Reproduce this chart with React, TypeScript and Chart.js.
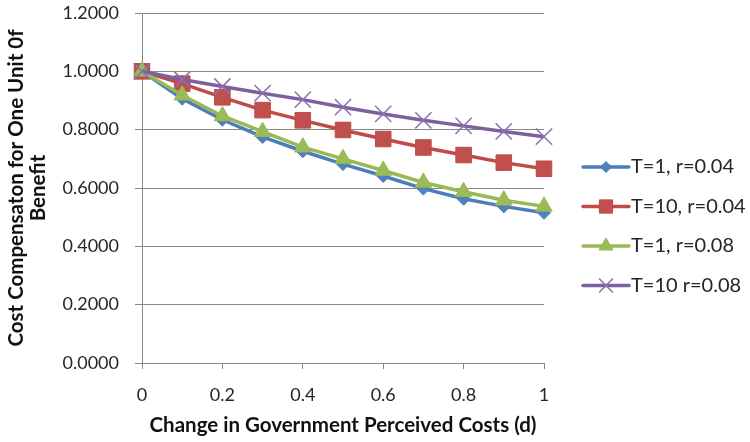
import React, { useEffect, useRef } from "react";
import { Chart, registerables } from "chart.js";

Chart.register(...registerables);

const xValues = [0, 0.1, 0.2, 0.3, 0.4, 0.5, 0.6, 0.7, 0.8, 0.9, 1.0];
const seriesLabels = ["T=1, r=0.04", "T=10, r=0.04", "T=1, r=0.08", "T=10 r=0.08"];
const t1r004 = [1.0, 0.906, 0.834, 0.775, 0.726, 0.682, 0.641, 0.598, 0.563, 0.537, 0.515];
const t10r004 = [1.0, 0.958, 0.911, 0.867, 0.832, 0.799, 0.768, 0.739, 0.713, 0.687, 0.666];
const t1r008 = [1.0, 0.918, 0.847, 0.793, 0.740, 0.700, 0.660, 0.619, 0.587, 0.558, 0.537];
const t10r008 = [1.0, 0.972, 0.948, 0.925, 0.903, 0.877, 0.854, 0.832, 0.813, 0.794, 0.776];
const xTitle = "Change in Government Perceived Costs (d)";
const yTitle = ["Cost Compensaton for One Unit 0f", "Benefit"];

const FONT = "Lato, 'Liberation Sans', sans-serif";

type Style = { line: string; fill: string; border: string; point: string; radius: number; pbw: number };
const styles: Style[] = [
  { line: "#4A7EBB", fill: "#4F81BD", border: "#4A7EBB", point: "rectRot", radius: 6.5, pbw: 1 },
  { line: "#BE4B48", fill: "#C0504D", border: "#BE4B48", point: "rect", radius: 11, pbw: 1 },
  { line: "#98B954", fill: "#9BBB59", border: "#98B954", point: "triangle", radius: 9.5, pbw: 1 },
  { line: "#7D60A0", fill: "#8064A2", border: "#8C70B0", point: "crossRot", radius: 11.5, pbw: 1.5 },
];

function drawMarker(ctx: CanvasRenderingContext2D, kind: string, x: number, y: number, r: number, s: Style) {
  ctx.save();
  ctx.beginPath();
  ctx.fillStyle = s.fill;
  ctx.strokeStyle = s.border;
  ctx.lineWidth = s.pbw;
  if (kind === "rectRot") {
    ctx.moveTo(x, y - r);
    ctx.lineTo(x + r, y);
    ctx.lineTo(x, y + r);
    ctx.lineTo(x - r, y);
    ctx.closePath();
    ctx.fill();
    ctx.stroke();
  } else if (kind === "rect") {
    const h = r * Math.SQRT1_2;
    ctx.rect(x - h, y - h, 2 * h, 2 * h);
    ctx.fill();
    ctx.stroke();
  } else if (kind === "triangle") {
    let a = 0;
    ctx.moveTo(x + Math.sin(a) * r, y - Math.cos(a) * r);
    a += (2 * Math.PI) / 3;
    ctx.lineTo(x + Math.sin(a) * r, y - Math.cos(a) * r);
    a += (2 * Math.PI) / 3;
    ctx.lineTo(x + Math.sin(a) * r, y - Math.cos(a) * r);
    ctx.closePath();
    ctx.fill();
    ctx.stroke();
  } else {
    const d = r * Math.SQRT1_2;
    ctx.moveTo(x - d, y - d);
    ctx.lineTo(x + d, y + d);
    ctx.moveTo(x - d, y + d);
    ctx.lineTo(x + d, y - d);
    ctx.stroke();
  }
  ctx.restore();
}

const legendPlugin = {
  id: "customLegend",
  afterDraw(chart: any) {
    const ctx: CanvasRenderingContext2D = chart.ctx;
    const area = chart.chartArea;
    const lineX0 = area.right + 39;
    const lineX1 = area.right + 85;
    const textX = area.right + 87;
    const rowY0 = area.top + 154;
    const rowGap = 39.5;
    chart.data.datasets.forEach((ds: any, i: number) => {
      const s = styles[i];
      const y = rowY0 + i * rowGap;
      ctx.save();
      ctx.strokeStyle = s.line;
      ctx.lineWidth = 3.5;
      ctx.lineCap = "round";
      ctx.beginPath();
      ctx.moveTo(lineX0, y);
      ctx.lineTo(lineX1, y);
      ctx.stroke();
      ctx.restore();
      drawMarker(ctx, s.point, (lineX0 + lineX1) / 2, y, s.radius * 0.85, s);
      ctx.save();
      ctx.fillStyle = "#262626";
      ctx.font = `20px ${FONT}`;
      ctx.textAlign = "left";
      ctx.textBaseline = "middle";
      ctx.fillText(ds.label, textX, y);
      ctx.restore();
    });
  },
};

export default function App() {
  const canvasRef = useRef<HTMLCanvasElement | null>(null);

  useEffect(() => {
    if (!canvasRef.current) return;
    const all = [t1r004, t10r004, t1r008, t10r008];
    const datasets = all.map((vals, i) => {
      const s = styles[i];
      return {
        label: seriesLabels[i],
        data: xValues.map((x, j) => ({ x, y: vals[j] })),
        borderColor: s.line,
        backgroundColor: s.fill,
        borderWidth: 3.5,
        pointStyle: s.point,
        pointRadius: s.radius,
        pointHoverRadius: s.radius,
        pointBackgroundColor: s.fill,
        pointBorderColor: s.border,
        pointBorderWidth: s.pbw,
        tension: 0,
        clip: false,
        order: 4 - i,
      };
    });

    const chart = new Chart(canvasRef.current, {
      type: "line",
      data: { datasets },
      plugins: [legendPlugin],
      options: {
        animation: false,
        responsive: false,
        maintainAspectRatio: false,
        layout: { padding: { left: 0, top: 13, right: 206, bottom: 0 } },
        plugins: { legend: { display: false }, tooltip: { enabled: false } },
        scales: {
          x: {
            type: "linear",
            min: 0,
            max: 1,
            ticks: {
              stepSize: 0.2,
              padding: 15,
              color: "#262626",
              font: { family: FONT, size: 18 },
              callback: (v: any) => String(Number(Number(v).toFixed(1))),
            },
            grid: { drawOnChartArea: false, drawTicks: true, tickLength: 6, color: "#878787", lineWidth: 1 },
            border: { display: true, color: "#878787", width: 1 },
            title: {
              display: true,
              text: xTitle,
              color: "#111",
              font: { family: FONT, size: 20.5, weight: "bold", lineHeight: "21px" },
              padding: { top: 0, bottom: 6.5 },
            },
            afterFit: (scale: any) => {
              scale.height = 79;
              scale.paddingLeft = 0;
              scale.paddingRight = 0;
            },
          },
          y: {
            type: "linear",
            min: 0,
            max: 1.2,
            ticks: {
              stepSize: 0.2,
              padding: 16,
              color: "#262626",
              font: { family: FONT, size: 18 },
              callback: (v: any) => Number(v).toFixed(4),
            },
            grid: { drawOnChartArea: true, drawTicks: true, tickLength: 7, color: "#878787", lineWidth: 1 },
            border: { display: true, color: "#878787", width: 1 },
            title: {
              display: true,
              text: yTitle,
              color: "#111",
              font: { family: FONT, size: 20.5, weight: "bold", lineHeight: "22px" },
              padding: { top: 5, bottom: 0 },
            },
            afterFit: (scale: any) => {
              scale.width = 142;
              scale.paddingTop = 0;
              scale.paddingBottom = 0;
            },
          },
        },
      } as any,
    });
    return () => chart.destroy();
  }, []);

  return (
    <div style={{ position: "absolute", left: 0, top: 0, width: 750, height: 442, background: "#fff" }}>
      <canvas ref={canvasRef} width={750} height={442} style={{ display: "block" }} />
    </div>
  );
}
